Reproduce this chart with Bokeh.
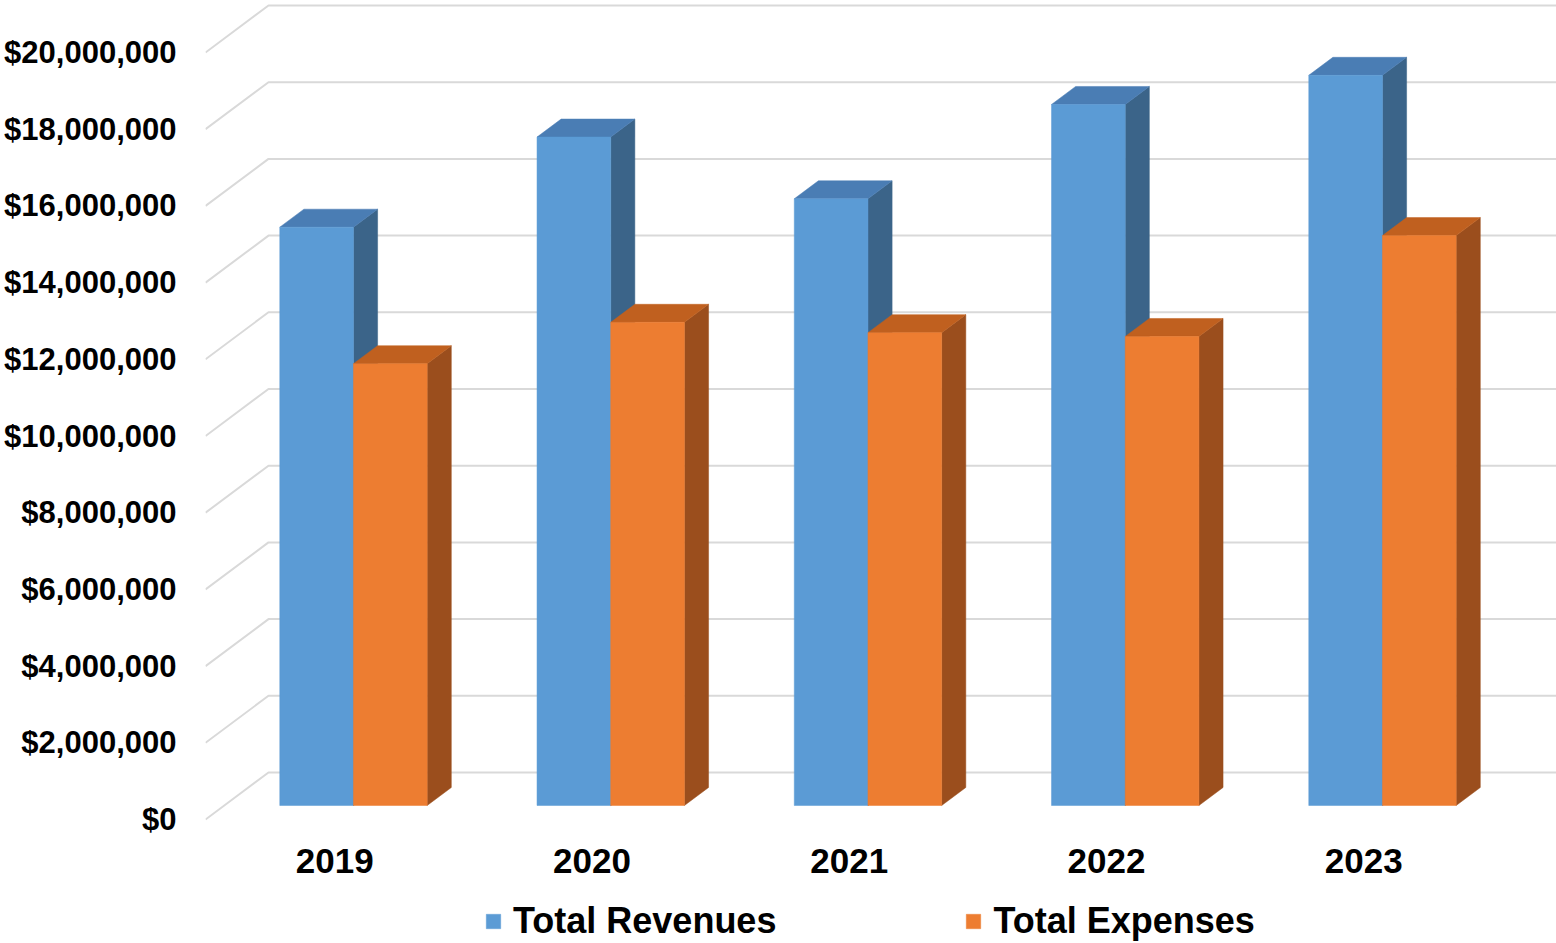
from bokeh.plotting import figure
from bokeh.models import Range1d, FixedTicker, NumeralTickFormatter, Legend, LegendItem
from bokeh.core.properties import value
from bokeh.embed import file_html
from bokeh.resources import INLINE

# ---------------- data ----------------
years = ["2019", "2020", "2021", "2022", "2023"]
total_revenues = [15080000, 17430000, 15820000, 18280000, 19040000]
total_expenses = [11520000, 12600000, 12330000, 12230000, 14860000]
y_ticks = [0, 2000000, 4000000, 6000000, 8000000, 10000000,
           12000000, 14000000, 16000000, 18000000, 20000000]

# ---------------- layout / style constants ----------------
W, H = 1556, 943
FRAME_LEFT, FRAME_TOP, FRAME_BOTTOM = 205, 0, 943
PX_PER_DOLLAR = 38.35 / 1e6      # vertical scale
FRONT_ZERO_PX = 819               # pixel row of $0 on the front plane
PX_PER_CAT = 257.25               # spacing of categories
CAT0_PX = 334.2                   # pixel column of first category (front plane)
DEPTH_PX = (63.0, 47.0)           # full depth vector (right, up) in px
Z_FRONT, Z_BACK = 0.298, 0.681    # bar depth span (fraction of full depth)
BAR_W_PX = 73.7
YEAR_LABEL_PX = 860               # pixel row of the year labels' centre

BLUE_FRONT, BLUE_TOP, BLUE_SIDE = "#5B9BD5", "#4A7DB4", "#3B6489"
ORANGE_FRONT, ORANGE_TOP, ORANGE_SIDE = "#ED7D31", "#C0601F", "#9B4E1D"
GRID = "#D9D9D9"
FONT = "Liberation Sans"

# conversions px -> data units
x_start = (FRAME_LEFT - CAT0_PX) / PX_PER_CAT
x_end = (W - CAT0_PX) / PX_PER_CAT
y_end = (FRONT_ZERO_PX - FRAME_TOP) / PX_PER_DOLLAR
y_start = (FRONT_ZERO_PX - FRAME_BOTTOM) / PX_PER_DOLLAR
Dx = DEPTH_PX[0] / PX_PER_CAT
Dy = DEPTH_PX[1] / PX_PER_DOLLAR
bw = BAR_W_PX / PX_PER_CAT

p = figure(width=W, height=H,
           x_range=Range1d(x_start, x_end), y_range=Range1d(y_start, y_end),
           output_backend="svg", toolbar_location=None,
           min_border_left=FRAME_LEFT, min_border_right=0,
           min_border_top=FRAME_TOP, min_border_bottom=H - FRAME_BOTTOM)
p.grid.visible = False
p.outline_line_color = None
p.background_fill_color = "white"
p.border_fill_color = "white"

# ---------------- gridlines (left wall diagonal + back wall) ----------------
gx, gy = [], []
for t in y_ticks:
    gx.append([x_start, x_start + Dx, x_end])
    gy.append([t, t + Dy, t + Dy])
p.multi_line(gx, gy, line_color=GRID, line_width=2)

# ---------------- 3D bars ----------------
def bar_faces(values, offset):
    fronts = dict(left=[], right=[], bottom=[], top=[])
    tops_x, tops_y, sides_x, sides_y = [], [], [], []
    fx, fy = Z_FRONT * Dx, Z_FRONT * Dy
    dx, dy = (Z_BACK - Z_FRONT) * Dx, (Z_BACK - Z_FRONT) * Dy
    for i, v in enumerate(values):
        xl = i + fx + offset * bw
        xr = xl + bw
        y0 = fy
        yt = v + fy
        fronts["left"].append(xl)
        fronts["right"].append(xr)
        fronts["bottom"].append(y0)
        fronts["top"].append(yt)
        tops_x.append([xl, xr, xr + dx, xl + dx])
        tops_y.append([yt, yt, yt + dy, yt + dy])
        sides_x.append([xr, xr, xr + dx, xr + dx])
        sides_y.append([y0, yt, yt + dy, y0 + dy])
    return fronts, (tops_x, tops_y), (sides_x, sides_y)

renderers = {}
for name, vals, off, cf, ct, cs in [
        ("rev", total_revenues, -1, BLUE_FRONT, BLUE_TOP, BLUE_SIDE),
        ("exp", total_expenses, 0, ORANGE_FRONT, ORANGE_TOP, ORANGE_SIDE)]:
    fr, tp, sd = bar_faces(vals, off)
    p.patches(sd[0], sd[1], fill_color=cs, line_color=cs, line_width=0.5)
    p.patches(tp[0], tp[1], fill_color=ct, line_color=ct, line_width=0.5)
    renderers[name] = p.quad(left=fr["left"], right=fr["right"],
                             bottom=fr["bottom"], top=fr["top"],
                             fill_color=cf, line_color=cf, line_width=0.5)

# ---------------- y axis ----------------
ya = p.yaxis[0]
ya.ticker = FixedTicker(ticks=y_ticks)
ya.formatter = NumeralTickFormatter(format="$0,0")
ya.axis_line_color = None
ya.major_tick_line_color = None
ya.minor_tick_line_color = None
ya.major_tick_out = 0
ya.major_tick_in = 0
ya.major_label_standoff = 29
ya.major_label_text_font = FONT
ya.major_label_text_font_style = "bold"
ya.major_label_text_font_size = "31px"
ya.major_label_text_color = "#000000"

# ---------------- category labels (front plane, below the floor) ----------------
p.xaxis.visible = False
p.text(x=list(range(len(years))),
       y=[(FRONT_ZERO_PX - YEAR_LABEL_PX) / PX_PER_DOLLAR] * len(years),
       text=years, text_align="center", text_baseline="middle",
       text_font=value(FONT), text_font_style="bold", text_font_size="35px",
       text_color="#000000")

# ---------------- legend ----------------
legend = Legend(items=[LegendItem(label="Total Revenues", renderers=[renderers["rev"]]),
                       LegendItem(label="Total Expenses", renderers=[renderers["exp"]])],
                orientation="horizontal", location=(279, 1),
                spacing=188, glyph_width=18, glyph_height=18, label_standoff=11,
                label_text_font=FONT, label_text_font_style="bold",
                label_text_font_size="36px", label_text_color="#000000",
                border_line_color=None, background_fill_alpha=0,
                padding=0, margin=0)
p.add_layout(legend, "center")

open("out.html", "w").write(file_html(p, INLINE))
